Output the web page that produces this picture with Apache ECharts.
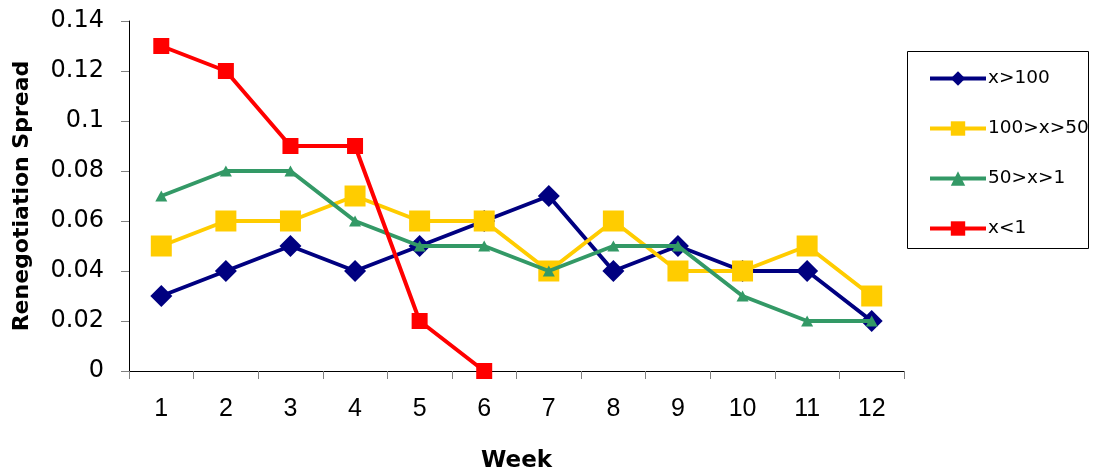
<!DOCTYPE html>
<html><head><meta charset="utf-8">
<script src="https://cdn.jsdelivr.net/npm/echarts@6/dist/echarts.min.js"></script>
<style>html,body{margin:0;padding:0;background:#fff}#c{width:1096px;height:475px}</style>
</head><body><div id="c"></div>
<script>
const weeks = ['1','2','3','4','5','6','7','8','9','10','11','12'];
const seriesNames = ['x>100','100>x>50','50>x>1','x<1'];
const over100 = [0.03,0.04,0.05,0.04,0.05,0.06,0.07,0.04,0.05,0.04,0.04,0.02];
const from50to100 = [0.05,0.06,0.06,0.07,0.06,0.06,0.04,0.06,0.04,0.04,0.05,0.03];
const from1to50 = [0.07,0.08,0.08,0.06,0.05,0.05,0.04,0.05,0.05,0.03,0.02,0.02];
const under1 = [0.13,0.12,0.09,0.09,0.02,0.00];
const yTicks = [0,0.02,0.04,0.06,0.08,0.1,0.12,0.14];

const lib = 'Liberation Sans, Arial, sans-serif';
const dv = 'DejaVu Sans, sans-serif';
const chart = echarts.init(document.getElementById('c'), null, {renderer:'canvas'});
function mk(name, data, color, symbol, size, z){
  return {name, type:'line', data, color, symbol, symbolSize:size, z,
    lineStyle:{width:4,color}, itemStyle:{color}, showAllSymbol:true, animation:false};
}
chart.setOption({
  animation:false,
  grid:{left:129, right:192, top:21, bottom:104, outerBoundsMode:'none', containLabel:false},
  xAxis:{type:'category', data:weeks, boundaryGap:true,
    name:'Week', nameLocation:'middle', nameGap:79,
    nameTextStyle:{fontFamily:dv, fontWeight:'bold', fontSize:23, color:'#000'},
    axisLine:{lineStyle:{color:'#000',width:1}},
    axisTick:{show:true, length:8, lineStyle:{color:'#808080'}},
    axisLabel:{fontFamily:lib, fontSize:25, color:'#000', margin:26}},
  yAxis:{type:'value', min:0, max:0.14, interval:0.02,
    name:'Renegotiation Spread', nameLocation:'middle', nameGap:96,
    nameTextStyle:{fontFamily:dv, fontWeight:'bold', fontSize:22, color:'#000'},
    axisLine:{show:true, lineStyle:{color:'#000',width:1}},
    axisTick:{show:true, length:8, lineStyle:{color:'#808080'}},
    splitLine:{show:false},
    axisLabel:{fontFamily:dv, fontSize:24, color:'#000', margin:25,
      formatter:v=>{const t=yTicks.find(x=>Math.abs(x-v)<1e-9); return String(+((t!==undefined?t:v).toFixed(2)));}}},
  legend:{orient:'vertical', left:923, top:64, itemWidth:56, itemHeight:18, itemGap:31,
    data:seriesNames, lineStyle:{width:4},
    textStyle:{fontFamily:dv, fontSize:18.5, color:'#000', padding:[0,0,0,-3]}},
  graphic:[{type:'rect', shape:{x:907.5,y:51.5,width:181,height:197},
    style:{fill:'none', stroke:'#000', lineWidth:1}}],
  series:[
    mk(seriesNames[0], over100, '#000080', 'diamond', [22,22], 2),
    mk(seriesNames[1], from50to100, '#FFCC00', 'rect', 21, 3),
    mk(seriesNames[2], from1to50, '#339966', 'triangle', [12,11], 4),
    mk(seriesNames[3], under1, '#FF0000', 'rect', 16, 5)
  ]
});
</script></body></html>
